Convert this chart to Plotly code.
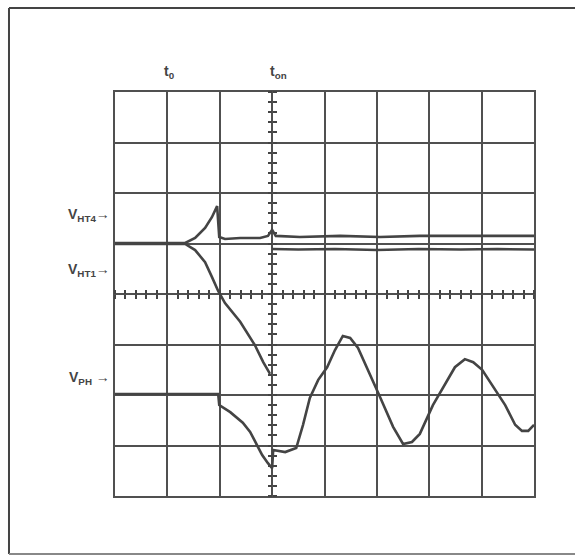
import plotly.graph_objects as go

# Oscilloscope traces, in grid divisions (x: time div, y: voltage div)
vht4_t = [0, 1.05, 1.34, 1.53, 1.72, 1.85, 1.95, 1.99, 2.10, 2.39, 2.77, 2.92, 3.0, 3.07, 3.53, 4.30, 5.06, 5.82, 6.59, 7.35, 8.0]
vht4_v = [5.01, 5.01, 5.01, 5.11, 5.31, 5.52, 5.74, 5.13, 5.09, 5.11, 5.11, 5.15, 5.27, 5.15, 5.13, 5.15, 5.13, 5.15, 5.15, 5.15, 5.15]

vht1_t = [0, 1.34, 1.53, 1.72, 1.85, 1.97, 2.10, 2.39, 2.67, 2.83, 2.96, None, 3.0, 3.5, 4.2, 5.0, 5.8, 6.6, 7.3, 8.0]
vht1_v = [4.99, 4.99, 4.87, 4.63, 4.34, 4.06, 3.82, 3.45, 2.99, 2.65, 2.42, None, 4.89, 4.88, 4.89, 4.87, 4.89, 4.88, 4.89, 4.88]

vph_t = [0, 1.43, 1.97, 1.99, 2.20, 2.44, 2.58, 2.67, 2.81, 2.92, 3.0, 3.02, 3.25, 3.46, 3.59, 3.72, 3.88,
         4.05, 4.20, 4.35, 4.49, 4.64, 4.83, 5.06, 5.31, 5.50, 5.67, 5.82, 6.07, 6.30, 6.49, 6.68, 6.84,
         7.01, 7.22, 7.45, 7.64, 7.77, 7.89, 8.0]
vph_v = [2.02, 2.02, 2.02, 1.80, 1.66, 1.45, 1.27, 1.09, 0.81, 0.65, 0.55, 0.91, 0.87, 0.95, 1.41, 1.94, 2.30,
         2.55, 2.89, 3.17, 3.13, 2.93, 2.50, 1.96, 1.37, 1.03, 1.07, 1.23, 1.80, 2.20, 2.55, 2.71, 2.65,
         2.50, 2.16, 1.80, 1.41, 1.29, 1.29, 1.41]

time_marks = ["<b>t<sub>0</sub></b>", "<b>t<sub>on</sub></b>"]
time_mark_pos = [1.05, 3.12]
trace_labels = ["<b>V<sub>HT4</sub>→</b>", "<b>V<sub>HT1</sub>→</b>", "<b>V<sub>PH</sub> →</b>"]
trace_label_pos = [5.56, 4.48, 2.34]

INK = "#444444"
GRID = "#505050"

fig = go.Figure()
for t, v in [(vht4_t, vht4_v), (vht1_t, vht1_v), (vph_t, vph_v)]:
    fig.add_trace(go.Scatter(x=t, y=v, mode="lines", line=dict(color=INK, width=2.6),
                             showlegend=False, hoverinfo="skip", connectgaps=False))

# invisible traces to bind the overlay tick axes
fig.add_trace(go.Scatter(x=[None], y=[None], xaxis="x2", yaxis="y2", showlegend=False, hoverinfo="skip"))
fig.add_trace(go.Scatter(x=[None], y=[None], xaxis="x3", yaxis="y3", showlegend=False, hoverinfo="skip"))

for name, pos in zip(time_marks, time_mark_pos):
    fig.add_annotation(x=pos, y=1.05, xref="x", yref="paper", text=name, showarrow=False,
                       font=dict(family="Liberation Sans", size=14, color=INK), xanchor="center", yanchor="middle")
for name, pos in zip(trace_labels, trace_label_pos):
    fig.add_annotation(x=-0.006, y=pos, xref="paper", yref="y", text=name, showarrow=False,
                       font=dict(family="Liberation Sans", size=14, color=INK), xanchor="right", yanchor="middle")

tick_common = dict(showgrid=False, zeroline=False, showline=False, showticklabels=False,
                   ticklen=4, tickwidth=2, tickcolor=INK, ticks="outside", dtick=0.2, tick0=0)

fig.update_layout(
    width=575, height=555,
    margin=dict(l=115, r=41, t=92, b=59),
    paper_bgcolor="white", plot_bgcolor="white",
    xaxis=dict(range=[0, 8], dtick=1, tick0=0, showgrid=True, gridcolor=GRID, gridwidth=2,
               showline=True, linecolor=GRID, linewidth=2, mirror=True, zeroline=False,
               showticklabels=False, ticks=""),
    yaxis=dict(range=[0, 8], dtick=1, tick0=0, showgrid=True, gridcolor=GRID, gridwidth=2,
               showline=True, linecolor=GRID, linewidth=2, mirror=True, zeroline=False,
               showticklabels=False, ticks=""),
    xaxis2=dict(range=[0, 8], overlaying="x", anchor="free", position=0.5, side="bottom", **tick_common),
    xaxis3=dict(range=[0, 8], overlaying="x", anchor="free", position=0.5, side="top", **tick_common),
    yaxis2=dict(range=[0, 8], overlaying="y", anchor="free", position=0.375, side="left", **tick_common),
    yaxis3=dict(range=[0, 8], overlaying="y", anchor="free", position=0.375, side="right", **tick_common),
    shapes=[
        dict(type="line", xref="paper", yref="paper", x0=-0.253, x1=-0.253, y0=1.208, y1=-0.1436,
             line=dict(color=INK, width=2)),
        dict(type="line", xref="paper", yref="paper", x0=-0.253, x1=1.12, y0=1.208, y1=1.208,
             line=dict(color=INK, width=2)),
        dict(type="line", xref="paper", yref="paper", x0=-0.253, x1=1.12, y0=-0.1436, y1=-0.1436,
             line=dict(color="#888", width=2)),
    ],
)

fig.write_html("out.html", config={"displayModeBar": False},
               post_script="document.body.style.margin='0';document.body.style.overflow='hidden';")
